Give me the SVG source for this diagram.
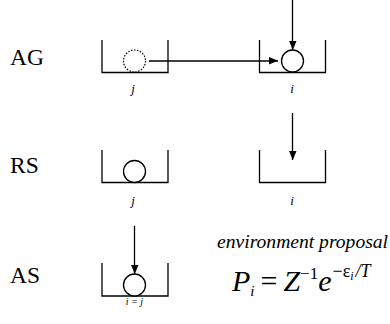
<svg xmlns="http://www.w3.org/2000/svg" width="390" height="324" viewBox="0 0 390 324">
<defs>
<marker id="ah" markerWidth="10" markerHeight="8" refX="9" refY="4" orient="auto" markerUnits="userSpaceOnUse">
<path d="M0,0 L9,3.7 L0,7.4 Z" fill="#000"/>
</marker>
<style>
.lbl{font-family:"Liberation Serif","Times New Roman",serif;font-size:23.5px;fill:#000}
.idx{font-family:"Liberation Serif","Times New Roman",serif;font-style:italic;font-size:13px;fill:#000;text-anchor:middle}
.box{fill:none;stroke:#000;stroke-width:1.3}
.ball{fill:#fff;stroke:#000;stroke-width:1.3}
.ghost{fill:none;stroke:#000;stroke-width:1.2;stroke-dasharray:1.5 1.5}
.arr{fill:none;stroke:#000;stroke-width:1.3;marker-end:url(#ah)}
.math{font-family:"Liberation Serif","Times New Roman",serif;font-style:italic;fill:#000}
</style>
</defs>
<g id="labels">
<text class="lbl" x="10" y="65">AG</text>
<text class="lbl" x="10" y="173">RS</text>
<text class="lbl" x="10" y="283">AS</text>
</g>
<g id="ag-j">
<path class="box" d="M102,40 V72.5 H168 V40"/>
<circle class="ghost" cx="134.5" cy="61" r="11"/>
<text class="idx" x="133" y="93">j</text>
</g>
<g id="ag-i">
<path class="box" d="M259.5,40 V72.5 H325.5 V40"/>
<circle class="ball" cx="292.5" cy="61" r="11"/>
<text class="idx" x="292" y="93">i</text>
</g>
<g id="rs-j">
<path class="box" d="M102,150 V182.5 H168 V150"/>
<circle class="ball" cx="134.5" cy="171.5" r="11"/>
<text class="idx" x="133" y="205">j</text>
</g>
<g id="rs-i">
<path class="box" d="M259.5,150 V182.5 H325.5 V150"/>
<text class="idx" x="292" y="205">i</text>
</g>
<g id="as-ij">
<path class="box" d="M102,263 V296 H168 V263"/>
<circle class="ball" cx="134.5" cy="285" r="11"/>
<text class="idx" x="134.5" y="305" style="font-size:10px">i = j</text>
</g>
<g id="connectors">
<line class="arr" x1="292.5" y1="0" x2="292.5" y2="50"/>
<line class="arr" x1="149" y1="61" x2="278" y2="61"/>
<line class="arr" x1="292.5" y1="113" x2="292.5" y2="160"/>
<line class="arr" x1="134.5" y1="226" x2="134.5" y2="274"/>
</g>
<g id="proposal">
<text class="math" x="217" y="248" style="font-size:19.6px">environment proposal</text>
<text class="math" style="font-size:30px" y="291"><tspan x="232">P</tspan><tspan style="font-size:15px" dy="5">i</tspan><tspan style="font-style:normal" dy="-5" dx="6">=</tspan><tspan dx="6">Z</tspan><tspan style="font-style:normal;font-size:17px" dy="-12">−1</tspan><tspan dy="12">e</tspan><tspan style="font-style:normal;font-size:18px" dy="-14" dx="1">−ε</tspan><tspan style="font-size:12px" dy="3">i</tspan><tspan style="font-size:18px" dy="-3" dx="2">/T</tspan></text>
</g>
</svg>
